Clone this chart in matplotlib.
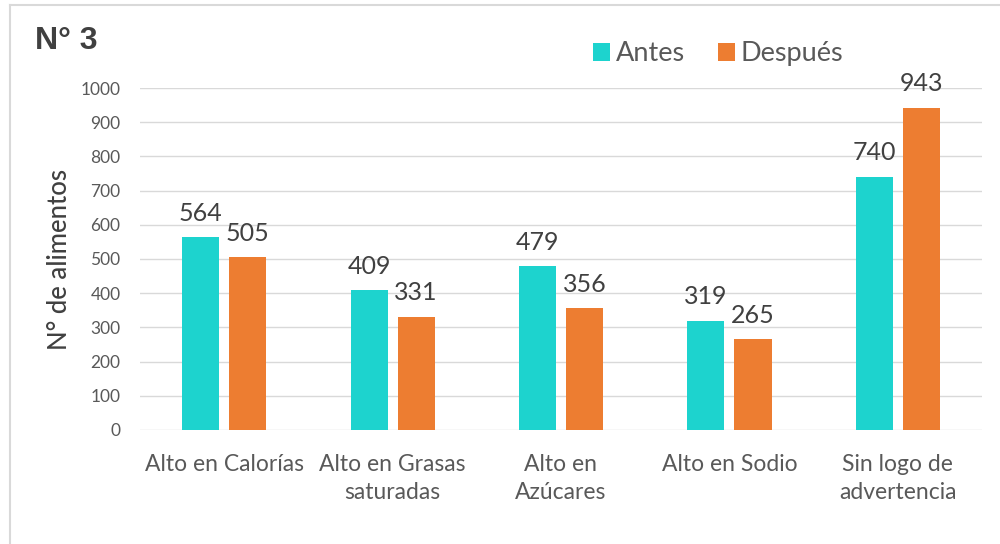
import numpy as np
import matplotlib
matplotlib.use('Agg')
import matplotlib.pyplot as plt
from matplotlib.lines import Line2D

categorias = ['Alto en Calorías', 'Alto en Grasas\nsaturadas', 'Alto en\nAzúcares',
              'Alto en Sodio', 'Sin logo de\nadvertencia']
antes = [564, 409, 479, 319, 740]
despues = [505, 331, 356, 265, 943]
series = ['Antes', 'Después']
yticks = [0, 100, 200, 300, 400, 500, 600, 700, 800, 900, 1000]

c_antes = '#1DD3CE'
c_desp = '#ED7D31'
gris = '#595959'

plt.rcParams['font.family'] = ['Lato', 'DejaVu Sans']

fig = plt.figure(figsize=(10, 5.44), dpi=100)
ax = fig.add_axes([0.14, 0.2096, 0.842, 0.6286])

# marco exterior
fig.add_artist(Line2D([0.010, 0.010], [0, 0.991], color='#D9D9D9', lw=1.5, transform=fig.transFigure))
fig.add_artist(Line2D([0.010, 1.0], [0.991, 0.991], color='#D9D9D9', lw=1.5, transform=fig.transFigure))

x = np.arange(len(categorias))
w = 0.22
off = 0.14
b1 = ax.bar(x - off, antes, width=w, color=c_antes, zorder=3)
b2 = ax.bar(x + off, despues, width=w, color=c_desp, zorder=3)

for bars, vals in [(b1, antes), (b2, despues)]:
    for r, v in zip(bars, vals):
        ax.annotate(str(v), (r.get_x() + r.get_width() / 2, v), xytext=(0, 9),
                    textcoords='offset points', ha='center', va='bottom',
                    fontsize=18, color='#404040')

ax.set_xlim(-0.5, len(categorias) - 0.5)
ax.set_ylim(0, 1000)
ax.set_yticks(yticks)
ax.set_xticks(x)
ax.set_xticklabels(categorias, fontsize=16.5, color=gris, linespacing=1.45)
ax.tick_params(axis='y', labelsize=12.5, colors=gris, length=0, pad=14)
ax.tick_params(axis='x', length=0, pad=17)
ax.grid(axis='y', color='#D9D9D9', lw=1, zorder=0)
for s in ax.spines.values():
    s.set_visible(False)

ax.set_ylabel('N° de alimentos', fontsize=18.5, color='#404040', fontweight='medium', labelpad=6)

fig.text(0.035, 0.925, 'N° 3', fontsize=23, fontweight='bold', color='#404040', va='center',
         family='Liberation Sans')

ax.legend([b1, b2], series, loc='center left', bbox_to_anchor=(0.525, 1.1), ncol=2,
          frameon=False, fontsize=19.5, labelcolor=gris, handlelength=0.65, handleheight=0.65,
          handletextpad=0.2, columnspacing=1.2, borderaxespad=0)

fig.savefig('out.png', dpi=100)
